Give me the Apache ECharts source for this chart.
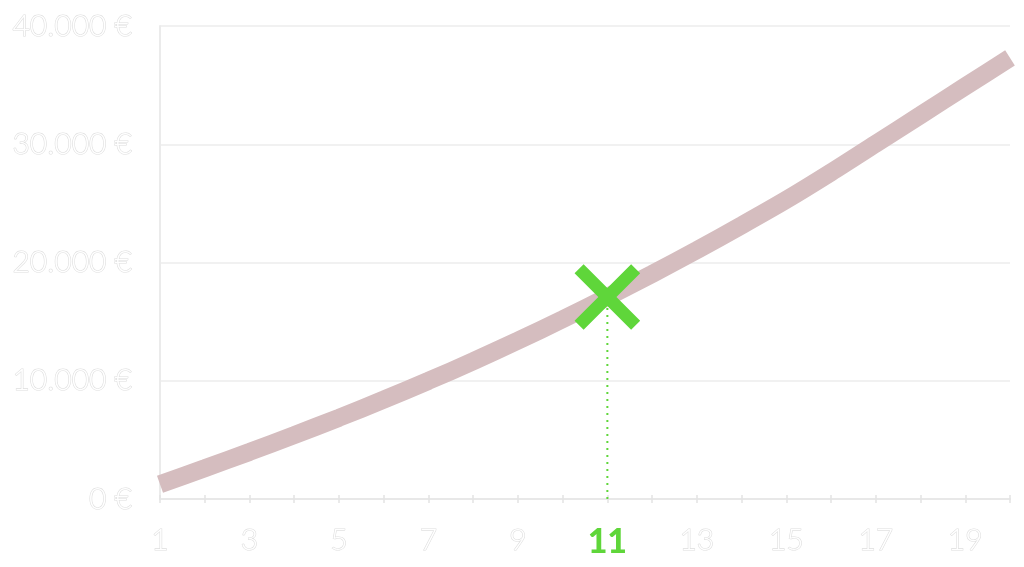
<!DOCTYPE html>
<html lang="de">
<head>
<meta charset="utf-8">
<title>Sparplan</title>
<script src="https://cdn.jsdelivr.net/npm/echarts@6/dist/echarts.min.js"></script>
<style>
  html, body { margin: 0; padding: 0; background: #fff; }
  #main { width: 1024px; height: 567px; }
</style>
</head>
<body>
<div id="main"></div>
<script type="text/javascript">
  // Jahre und Kapital
  var years = [1, 2, 3, 4, 5, 6, 7, 8, 9, 10, 11, 12, 13, 14, 15, 16, 17, 18, 19, 20];
  var capital = [1250, 2600, 3980, 5400, 6870, 8400, 9990, 11650, 13390, 15200,
                 17080, 19030, 21050, 23140, 25300, 27620, 30040, 32460, 34890, 37300];
  var highlightYear = 11;
  var yTicks = [0, 10000, 20000, 30000, 40000];

  var green = '#5fd63a';
  var lineColor = '#d5bdbf';

  function euro(v) {
    var s = String(v);
    return s.replace(/\B(?=(\d{3})+(?!\d))/g, '.') + ' €';
  }

  var lineData = [];
  for (var i = 0; i < years.length; i++) {
    lineData.push([years[i], capital[i]]);
  }
  var hlValue = capital[years.indexOf(highlightYear)];

  var myChart = echarts.init(document.getElementById('main'));

  var labelBase = {
    color: '#ffffff',
    textBorderColor: '#dedede',
    textBorderWidth: 1.2,
    fontFamily: 'Lato',
    fontWeight: 300,
    fontSize: 30
  };

  var xCommon = {
    type: 'value',
    min: years[0],
    max: years[years.length - 1],
    interval: 1
  };

  var option = {
    backgroundColor: '#ffffff',
    animation: false,
    grid: { left: 160, right: 14, top: 26, bottom: 68 },
    xAxis: [
      Object.assign({}, xCommon, {
        axisLine: { lineStyle: { color: '#e8e8e8', width: 2 } },
        axisTick: { length: 4, lineStyle: { color: '#e4e4e4', width: 1.5 } },
        splitLine: { show: false },
        axisLabel: {
          margin: 26,
          formatter: function (v) {
            if (v % 2 === 0) return '';
            if (v === highlightYear) return '{hl|' + v + '}';
            return '{n|' + v + '}';
          },
          rich: {
            n: labelBase,
            hl: {
              color: green,
              fontFamily: 'Lato',
              fontWeight: 900,
              fontSize: 34
            }
          }
        }
      }),
      Object.assign({}, xCommon, {
        position: 'bottom',
        axisLine: { show: false },
        axisTick: { inside: true, length: 4, lineStyle: { color: '#e4e4e4', width: 1.5 } },
        axisLabel: { show: false },
        splitLine: { show: false }
      })
    ],
    yAxis: {
      type: 'value',
      min: yTicks[0],
      max: yTicks[yTicks.length - 1],
      interval: 10000,
      axisLine: { show: true, lineStyle: { color: '#ebebeb', width: 2 } },
      axisTick: { show: false },
      splitLine: { lineStyle: { color: '#ececec', width: 1.5 } },
      axisLabel: Object.assign({ margin: 28, formatter: euro }, labelBase)
    },
    series: [
      {
        type: 'line',
        data: lineData,
        smooth: 0.3,
        showSymbol: false,
        lineStyle: { color: lineColor, width: 18, cap: 'butt' },
        z: 2
      },
      {
        type: 'line',
        data: [[highlightYear, 0], [highlightYear, hlValue]],
        showSymbol: false,
        lineStyle: { color: green, width: 2, type: [2, 5] },
        z: 3
      },
      {
        type: 'scatter',
        data: [[highlightYear, hlValue]],
        symbol: 'path://M42,0 L58,0 L58,42 L100,42 L100,58 L58,58 L58,100 L42,100 L42,58 L0,58 L0,42 L42,42 Z',
        symbolSize: 80,
        symbolRotate: 45,
        itemStyle: { color: green, opacity: 1 },
        z: 4
      }
    ]
  };

  myChart.setOption(option);
</script>
</body>
</html>
